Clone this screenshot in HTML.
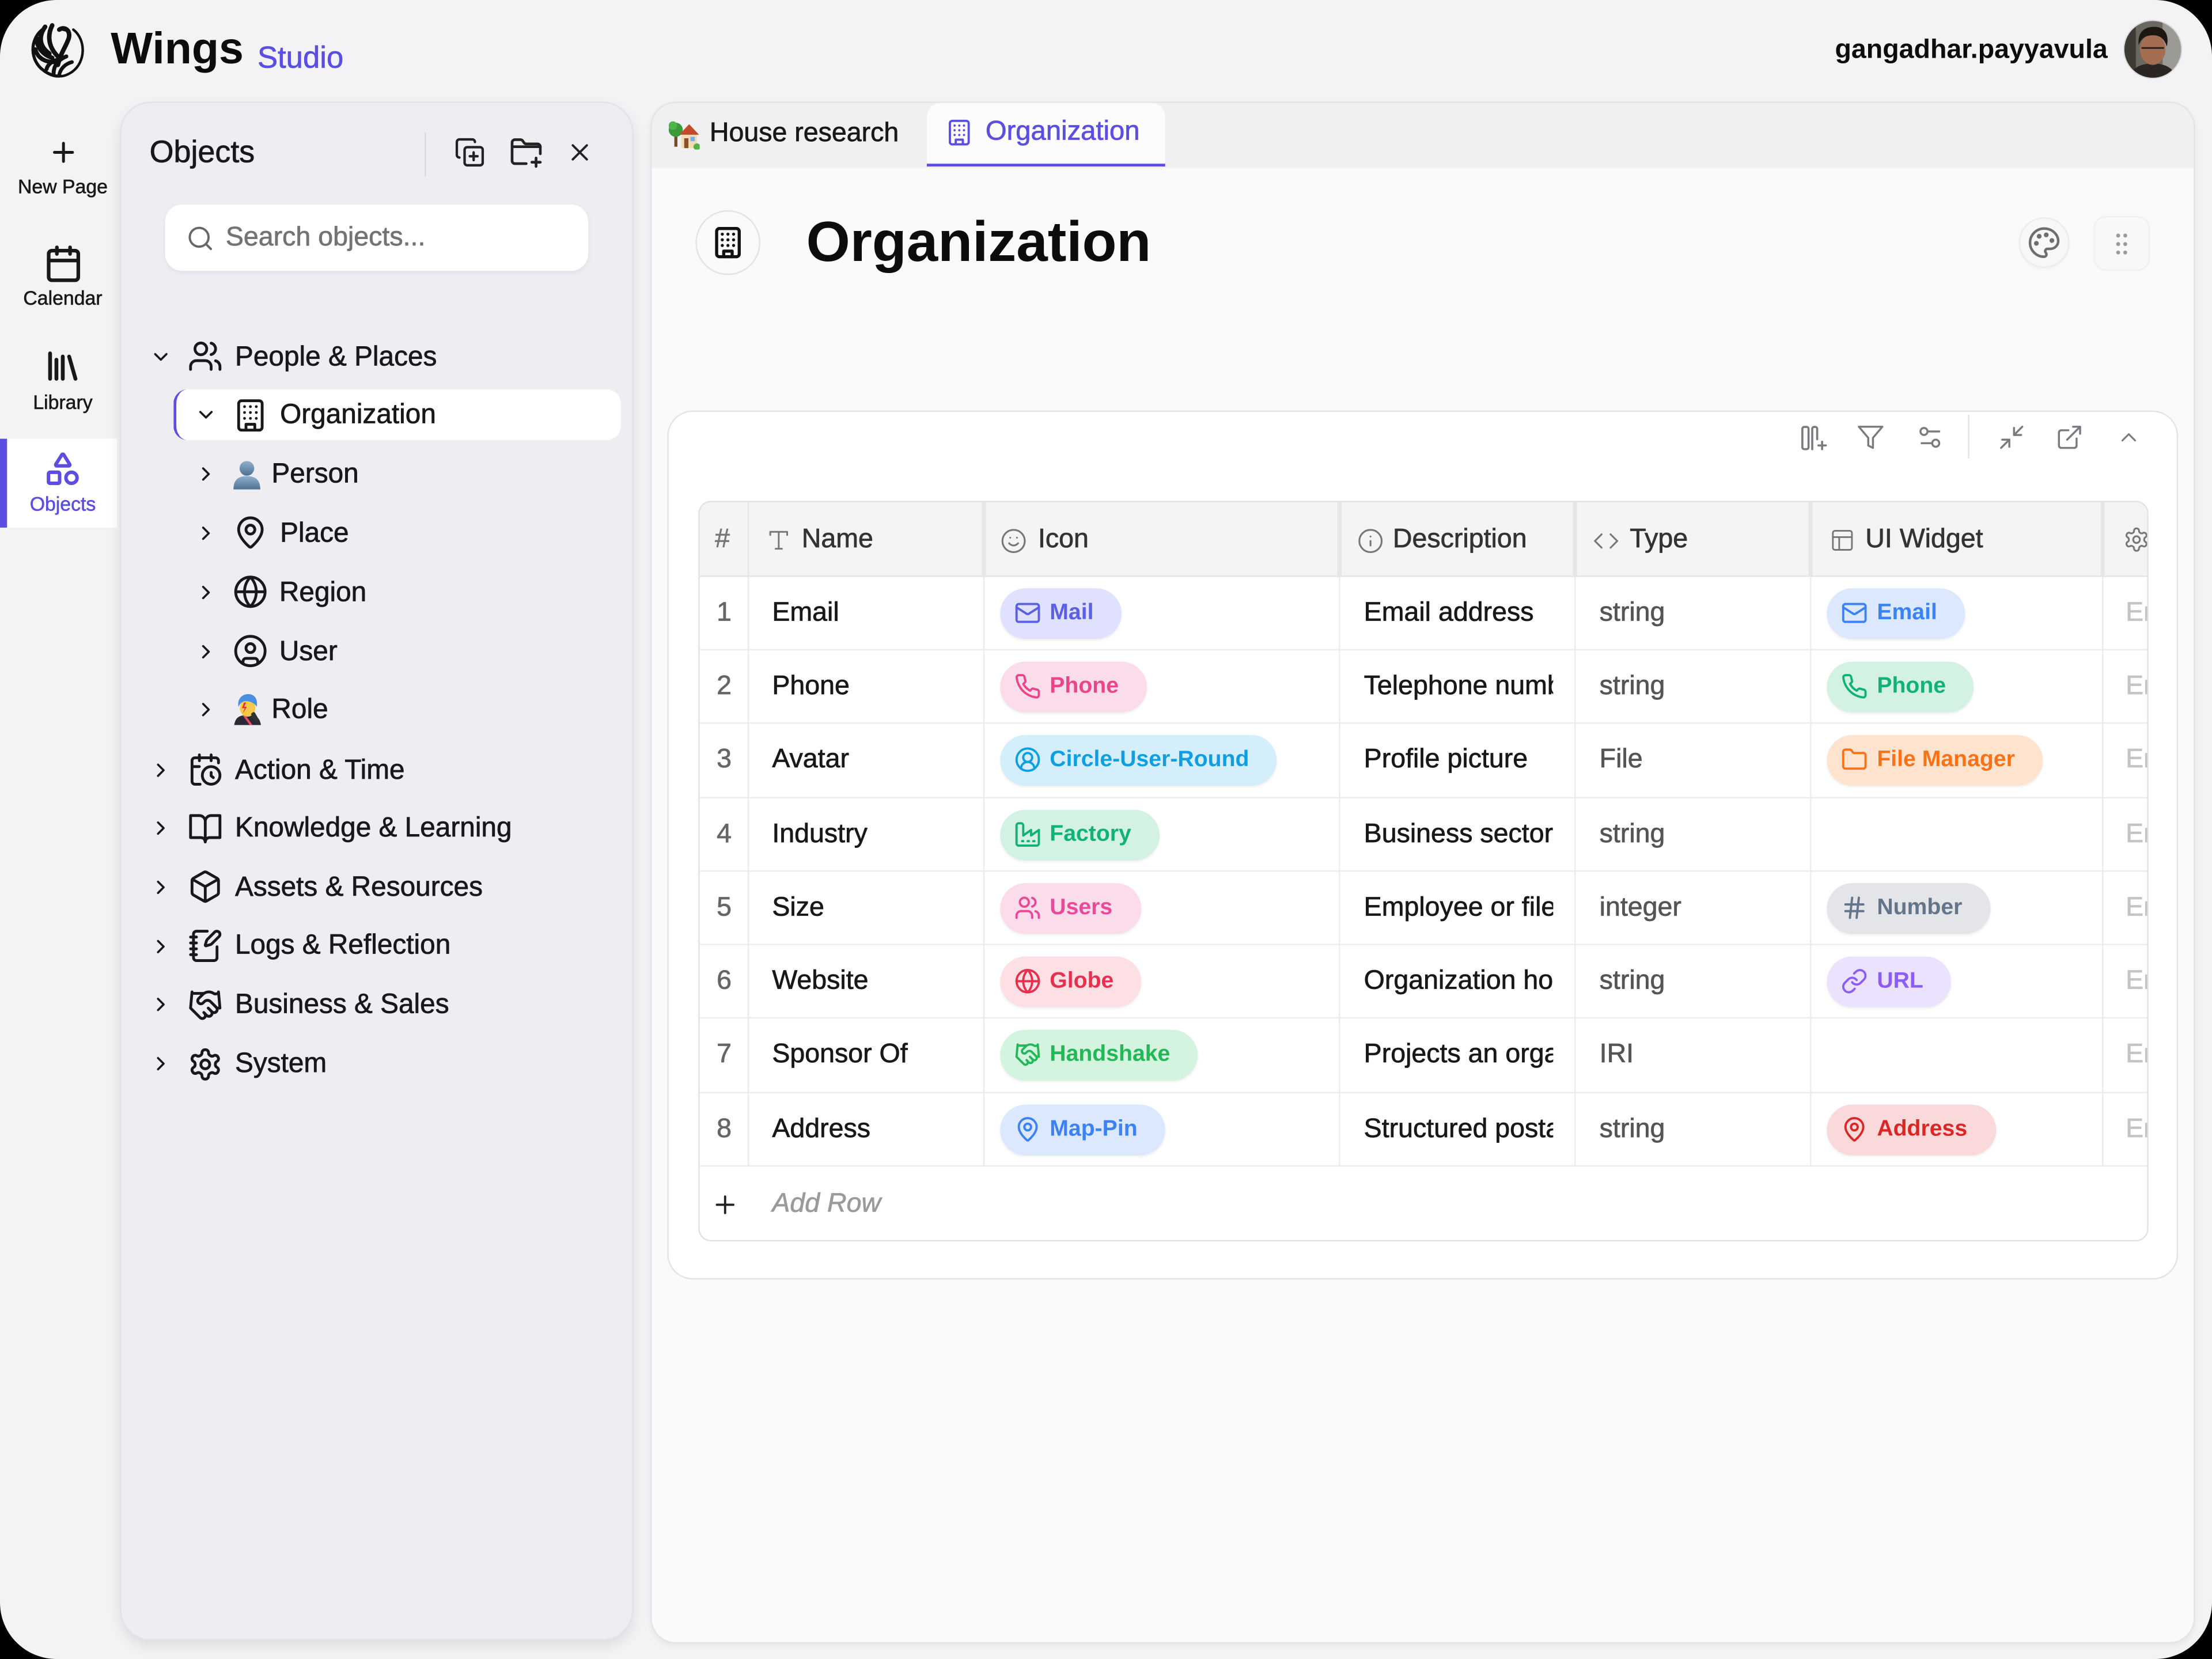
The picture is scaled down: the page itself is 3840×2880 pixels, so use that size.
<!DOCTYPE html>
<html><head><meta charset="utf-8">
<style>
html,body{margin:0;padding:0;background:#000;}
body{width:3840px;height:2880px;overflow:hidden;position:relative;}
#s{position:absolute;left:0;top:0;width:1568px;height:1176px;transform:scale(2.4489796);transform-origin:0 0;background:#f3f3f5;border-radius:40px;overflow:hidden;font-family:"Liberation Sans",Arial,sans-serif;color:#18181b;}
.a{position:absolute;}
.t{position:absolute;white-space:nowrap;line-height:24px;}
.w{-webkit-text-stroke:0.3px currentColor;}
svg.i{position:absolute;fill:none;stroke:currentColor;stroke-width:2;stroke-linecap:round;stroke-linejoin:round;overflow:visible;}
.nl{position:absolute;left:0;width:89px;text-align:center;font-size:13.8px;line-height:16px;-webkit-text-stroke:0.25px currentColor;}
.tr{font-size:19.5px;-webkit-text-stroke:0.3px currentColor;}
.pill{position:absolute;height:36px;border-radius:18px;padding:0 20px 0 35px;font-size:16px;font-weight:bold;line-height:36px;white-space:nowrap;box-shadow:0 1px 2px rgba(0,0,0,.07);}
.pill svg{position:absolute;left:9.5px;top:8px;width:19px;height:19px;fill:none;stroke:currentColor;stroke-width:2;stroke-linecap:round;stroke-linejoin:round;}
.cell{position:absolute;white-space:nowrap;line-height:24px;font-size:19px;-webkit-text-stroke:0.3px currentColor;}
.hl{position:absolute;left:0;width:1030px;height:1px;background:#ececef;}
.vl{position:absolute;top:53px;width:1px;height:418px;background:#ececef;}
.hv{position:absolute;top:0;width:3px;height:53px;background:#e6e6ea;}
</style></head><body>
<svg width="0" height="0" style="position:absolute">
<defs>
<symbol id="plus" viewBox="0 0 24 24"><path d="M5 12h14M12 5v14"/></symbol>
<symbol id="cal" viewBox="0 0 24 24"><rect x="3" y="4" width="18" height="18" rx="2"/><path d="M16 2v4M8 2v4M3 10h18"/></symbol>
<symbol id="lib" viewBox="0 0 24 24"><path d="m16 6 4 14M12 6v14M8 8v12M4 4v16"/></symbol>
<symbol id="shapes" viewBox="0 0 24 24"><path d="M8.3 10a.7.7 0 0 1-.626-1.079L11.4 3a.7.7 0 0 1 1.198-.043L16.3 8.9a.7.7 0 0 1-.572 1.1Z"/><rect x="3" y="14" width="7" height="7" rx="1"/><circle cx="17.5" cy="17.5" r="3.5"/></symbol>
<symbol id="copyplus" viewBox="0 0 24 24"><path d="M15 12v6M12 15h6"/><rect x="8" y="8" width="14" height="14" rx="2"/><path d="M4 16c-1.1 0-2-.9-2-2V4c0-1.1.9-2 2-2h10c1.1 0 2 .9 2 2"/></symbol>
<symbol id="folderplus" viewBox="0 0 24 24"><path d="M19 16v6M16 19h6"/><path d="M12 20H4a2 2 0 0 1-2-2V5a2 2 0 0 1 2-2h3.9a2 2 0 0 1 1.69.9l.81 1.2a2 2 0 0 0 1.67.9H20a2 2 0 0 1 2 2v5"/><path d="M2 8h20"/></symbol>
<symbol id="x" viewBox="0 0 24 24"><path d="M18 6 6 18M6 6l12 12"/></symbol>
<symbol id="search" viewBox="0 0 24 24"><circle cx="11" cy="11" r="8"/><path d="m21 21-4.3-4.3"/></symbol>
<symbol id="cdown" viewBox="0 0 24 24"><path d="m6 9 6 6 6-6"/></symbol>
<symbol id="cright" viewBox="0 0 24 24"><path d="m9 18 6-6-6-6"/></symbol>
<symbol id="cup" viewBox="0 0 24 24"><path d="m18 15-6-6-6 6"/></symbol>
<symbol id="users" viewBox="0 0 24 24"><path d="M16 21v-2a4 4 0 0 0-4-4H6a4 4 0 0 0-4 4v2"/><circle cx="9" cy="7" r="4"/><path d="M22 21v-2a4 4 0 0 0-3-3.87M16 3.130a4 4 0 0 1 0 7.75"/></symbol>
<symbol id="building" viewBox="0 0 24 24"><rect x="4" y="2" width="16" height="20" rx="2"/><path d="M9 22v-4h6v4M8 6h.01M16 6h.01M12 6h.01M12 10h.01M12 14h.01M16 10h.01M16 14h.01M8 10h.01M8 14h.01"/></symbol>
<symbol id="pin" viewBox="0 0 24 24"><path d="M20 10c0 4.993-5.539 10.193-7.399 11.799a1 1 0 0 1-1.202 0C9.539 20.193 4 14.993 4 10a8 8 0 0 1 16 0"/><circle cx="12" cy="10" r="3"/></symbol>
<symbol id="globe" viewBox="0 0 24 24"><circle cx="12" cy="12" r="10"/><path d="M12 2a14.5 14.5 0 0 0 0 20 14.5 14.5 0 0 0 0-20M2 12h20"/></symbol>
<symbol id="cuser" viewBox="0 0 24 24"><circle cx="12" cy="12" r="10"/><circle cx="12" cy="10" r="3"/><path d="M7 20.662V19a2 2 0 0 1 2-2h6a2 2 0 0 1 2 2v1.662"/></symbol>
<symbol id="curound" viewBox="0 0 24 24"><path d="M18 20a6 6 0 0 0-12 0"/><circle cx="12" cy="10" r="4"/><circle cx="12" cy="12" r="10"/></symbol>
<symbol id="calclock" viewBox="0 0 24 24"><path d="M21 7.5V6a2 2 0 0 0-2-2H5a2 2 0 0 0-2 2v14a2 2 0 0 0 2 2h3.5M16 2v4M8 2v4M3 10h5M17.5 17.5 16 16.3V14"/><circle cx="16" cy="16" r="6"/></symbol>
<symbol id="book" viewBox="0 0 24 24"><path d="M2 3h6a4 4 0 0 1 4 4v14a3 3 0 0 0-3-3H2zM22 3h-6a4 4 0 0 0-4 4v14a3 3 0 0 1 3-3h7z"/></symbol>
<symbol id="box" viewBox="0 0 24 24"><path d="M21 8a2 2 0 0 0-1-1.73l-7-4a2 2 0 0 0-2 0l-7 4A2 2 0 0 0 3 8v8a2 2 0 0 0 1 1.73l7 4a2 2 0 0 0 2 0l7-4A2 2 0 0 0 21 16Z"/><path d="m3.3 7 8.7 5 8.7-5M12 22V12"/></symbol>
<symbol id="notebook" viewBox="0 0 24 24"><path d="M13.4 2H6a2 2 0 0 0-2 2v16a2 2 0 0 0 2 2h12a2 2 0 0 0 2-2v-7.4M2 6h4M2 10h4M2 14h4M2 18h4"/><path d="M21.378 5.626a1 1 0 1 0-3.004-3.004l-5.01 5.012a2 2 0 0 0-.506.854l-.837 2.87a.5.5 0 0 0 .62.62l2.870-.837a2 2 0 0 0 .854-.506z"/></symbol>
<symbol id="hand" viewBox="0 0 24 24"><path d="m11 17 2 2a1 1 0 1 0 3-3"/><path d="m14 14 2.5 2.5a1 1 0 1 0 3-3l-3.880-3.880a3 3 0 0 0-4.240 0l-.880.880a1 1 0 1 1-3-3l2.810-2.810a5.790 5.790 0 0 1 7.060-.870l.470.280a2 2 0 0 0 1.420.250L21 4"/><path d="m21 3 1 11h-2M3 3 2 14l6.5 6.5a1 1 0 1 0 3-3M3 4h8"/></symbol>
<symbol id="gear" viewBox="0 0 24 24"><path d="M12.22 2h-.44a2 2 0 0 0-2 2v.18a2 2 0 0 1-1 1.73l-.43.25a2 2 0 0 1-2 0l-.15-.08a2 2 0 0 0-2.73.73l-.22.38a2 2 0 0 0 .73 2.73l.15.1a2 2 0 0 1 1 1.72v.51a2 2 0 0 1-1 1.74l-.15.09a2 2 0 0 0-.73 2.73l.22.38a2 2 0 0 0 2.73.73l.15-.08a2 2 0 0 1 2 0l.43.25a2 2 0 0 1 1 1.73V20a2 2 0 0 0 2 2h.44a2 2 0 0 0 2-2v-.18a2 2 0 0 1 1-1.73l.43-.25a2 2 0 0 1 2 0l.15.08a2 2 0 0 0 2.73-.73l.22-.39a2 2 0 0 0-.73-2.73l-.15-.08a2 2 0 0 1-1-1.74v-.5a2 2 0 0 1 1-1.74l.15-.09a2 2 0 0 0 .73-2.73l-.22-.38a2 2 0 0 0-2.73-.73l-.15.08a2 2 0 0 1-2 0l-.43-.25a2 2 0 0 1-1-1.73V4a2 2 0 0 0-2-2z"/><circle cx="12" cy="12" r="3"/></symbol>
<symbol id="mail" viewBox="0 0 24 24"><rect x="2" y="4" width="20" height="16" rx="2"/><path d="m22 7-8.97 5.7a1.94 1.94 0 0 1-2.06 0L2 7"/></symbol>
<symbol id="phone" viewBox="0 0 24 24"><path d="M22 16.92v3a2 2 0 0 1-2.18 2 19.79 19.79 0 0 1-8.63-3.07 19.5 19.5 0 0 1-6-6 19.79 19.79 0 0 1-3.07-8.67A2 2 0 0 1 4.11 2h3a2 2 0 0 1 2 1.72 12.84 12.84 0 0 0 .7 2.81 2 2 0 0 1-.45 2.11L8.09 9.91a16 16 0 0 0 6 6l1.27-1.27a2 2 0 0 1 2.11-.45 12.84 12.84 0 0 0 2.81.7A2 2 0 0 1 22 16.92z"/></symbol>
<symbol id="factory" viewBox="0 0 24 24"><path d="M2 20a2 2 0 0 0 2 2h16a2 2 0 0 0 2-2V8l-7 5V8l-7 5V4a2 2 0 0 0-2-2H4a2 2 0 0 0-2 2Z"/><path d="M17 18h1M12 18h1M7 18h1"/></symbol>
<symbol id="folder" viewBox="0 0 24 24"><path d="M20 20a2 2 0 0 0 2-2V8a2 2 0 0 0-2-2h-7.9a2 2 0 0 1-1.69-.9L9.6 3.9A2 2 0 0 0 7.93 3H4a2 2 0 0 0-2 2v13a2 2 0 0 0 2 2Z"/></symbol>
<symbol id="hash" viewBox="0 0 24 24"><path d="M4 9h16M4 15h16M10 3 8 21M16 3l-2 18"/></symbol>
<symbol id="link" viewBox="0 0 24 24"><path d="M10 13a5 5 0 0 0 7.54.54l3-3a5 5 0 0 0-7.07-7.07l-1.72 1.71"/><path d="M14 11a5 5 0 0 0-7.54-.54l-3 3a5 5 0 0 0 7.07 7.07l1.71-1.71"/></symbol>
<symbol id="type" viewBox="0 0 24 24"><path d="M4 7V4h16v3M9 20h6M12 4v16"/></symbol>
<symbol id="smile" viewBox="0 0 24 24"><circle cx="12" cy="12" r="10"/><path d="M8 14s1.5 2 4 2 4-2 4-2M9 9h.01M15 9h.01"/></symbol>
<symbol id="info" viewBox="0 0 24 24"><circle cx="12" cy="12" r="10"/><path d="M12 16v-4M12 8h.01"/></symbol>
<symbol id="code" viewBox="0 0 24 24"><path d="m16 18 6-6-6-6M8 6l-6 6 6 6"/></symbol>
<symbol id="layout" viewBox="0 0 24 24"><rect x="3" y="3" width="18" height="18" rx="2"/><path d="M3 9h18M9 21V9"/></symbol>
<symbol id="colplus" viewBox="0 0 24 24"><rect x="3" y="3" width="5" height="18" rx="1.5"/><path d="M11 21V4.5A1.5 1.5 0 0 1 12.5 3h1A1.5 1.5 0 0 1 15 4.5V13M19 15v6M16 18h6"/></symbol>
<symbol id="filter" viewBox="0 0 24 24"><path d="M22 3H2l8 9.46V19l4 2v-8.54z"/></symbol>
<symbol id="sliders" viewBox="0 0 24 24"><path d="M20 7h-9M14 17H5"/><circle cx="17" cy="17" r="3"/><circle cx="7" cy="7" r="3"/></symbol>
<symbol id="minim" viewBox="0 0 24 24"><path d="M4 14h6v6M20 10h-6V4M14 10l7-7M3 21l7-7"/></symbol>
<symbol id="ext" viewBox="0 0 24 24"><path d="M15 3h6v6M10 14 21 3M18 13v6a2 2 0 0 1-2 2H5a2 2 0 0 1-2-2V8a2 2 0 0 1 2-2h6"/></symbol>
<symbol id="palette" viewBox="0 0 24 24"><circle cx="13.5" cy="6.5" r=".8" fill="currentColor"/><circle cx="17.5" cy="10.5" r=".8" fill="currentColor"/><circle cx="8.5" cy="7.5" r=".8" fill="currentColor"/><circle cx="6.5" cy="12.5" r=".8" fill="currentColor"/><path d="M12 2C6.5 2 2 6.5 2 12s4.5 10 10 10c.926 0 1.648-.746 1.648-1.688 0-.437-.18-.835-.437-1.125-.29-.289-.438-.652-.438-1.125a1.64 1.64 0 0 1 1.668-1.668h1.996c3.051 0 5.555-2.503 5.555-5.554C21.965 6.012 17.461 2 12 2z"/></symbol>
<symbol id="grip" viewBox="0 0 24 24"><g fill="currentColor" stroke="none"><circle cx="9.5" cy="6" r="1.4"/><circle cx="9.5" cy="12" r="1.4"/><circle cx="9.5" cy="18" r="1.4"/><circle cx="14.5" cy="6" r="1.4"/><circle cx="14.5" cy="12" r="1.4"/><circle cx="14.5" cy="18" r="1.4"/></g></symbol>
</defs>
</svg>

<div id="s">
<!-- logo -->
<svg class="a" style="left:21px;top:16px" width="40" height="39" viewBox="0 0 40 39">
<g fill="none" stroke="#111" stroke-linecap="round">
<path d="M9 5 C0 12 0 27 10 34 C14 37 18 38 21 38" stroke-width="2.2"/>
<path d="M31 5 C40 12 40 28 30 35 C27 37 24 38 22 38" stroke-width="1.8"/>
<path d="M11 3 C6 10 7 17 14 22" stroke-width="3.2"/>
<path d="M5 11 C5 18 10 23 16 25" stroke-width="3.2"/>
<path d="M4 19 C6 26 12 28 17 28" stroke-width="3"/>
<path d="M16 2 C12 10 14 18 20 24" stroke-width="3.2"/>
<path d="M21 5 C26 2 30 7 27 13 C25 18 22 22 20 30" stroke-width="3.2"/>
<path d="M17 36 C17 30 21 26 26 24" stroke-width="2.8"/>
<path d="M21 37 C22 32 26 29 30 28" stroke-width="2.6"/>
<path d="M12 33 C13 29 17 27 21 26" stroke-width="2.8"/>
<path d="M24 5 L28 6" stroke-width="2"/>
</g>
</svg>
<div class="t" style="left:78.5px;top:14.3px;font-size:31.5px;line-height:40px;font-weight:bold;color:#0c0c0e;">Wings</div>
<div class="t w" style="left:182.5px;top:25.5px;font-size:21.5px;line-height:30px;color:#5b4ee0;">Studio</div>
<div class="t" style="right:74px;top:23px;font-size:19px;line-height:26px;font-weight:bold;color:#0c0c0e;">gangadhar.payyavula</div>
<!-- avatar -->
<svg class="a" style="left:1505px;top:14px" width="42" height="42" viewBox="0 0 42 42">
<defs><clipPath id="av"><circle cx="21" cy="21" r="20.5"/></clipPath></defs>
<g clip-path="url(#av)">
<rect width="42" height="42" fill="#6b6860"/>
<rect x="28" y="0" width="14" height="42" fill="#9c9a94"/>
<rect x="0" y="0" width="9" height="42" fill="#3e3a36"/>
<path d="M4 42 C6 33 14 31 21 31 C28 31 36 33 38 42Z" fill="#2b2624"/>
<ellipse cx="21" cy="21" rx="9" ry="11" fill="#a56e52"/>
<path d="M11 18 C10 8 16 5 22 5 C29 5 33 10 31 19 C29 13 26 11 21 11 C16 11 13 13 11 18Z" fill="#1d1714"/>
<path d="M13 20h6M23 20h6M19 20h4" stroke="#222" stroke-width="1.2"/>
</g>
<circle cx="21" cy="21" r="20.5" fill="none" stroke="#d8d8d8" stroke-width="0.8"/>
</svg>

<!-- left nav -->
<svg class="i" style="left:33.5px;top:97px;color:#18181b;stroke-width:2.2" width="22" height="22"><use href="#plus"/></svg>
<div class="nl" style="top:125px;">New Page</div>
<svg class="i" style="left:30.5px;top:173px;color:#18181b;stroke-width:2.2" width="28" height="28"><use href="#cal"/></svg>
<div class="nl" style="top:204px;">Calendar</div>
<svg class="i" style="left:30.5px;top:246px;color:#18181b;stroke-width:2.4" width="27" height="27"><use href="#lib"/></svg>
<div class="nl" style="top:277.5px;">Library</div>
<div class="a" style="left:0;top:311px;width:83px;height:63px;background:#fff;"></div>
<div class="a" style="left:0;top:311px;width:5px;height:63px;background:#5b4ee0;"></div>
<svg class="i" style="left:31px;top:319px;color:#5b4ee0;stroke-width:2.2" width="27" height="27"><use href="#shapes"/></svg>
<div class="nl" style="top:350px;color:#5b4ee0;">Objects</div>

<!-- objects panel -->
<div class="a" style="left:84.5px;top:71.5px;width:364px;height:1091px;border-radius:22px;background:#eeedf2;border:1px solid #e2e2e7;box-sizing:border-box;box-shadow:0 4px 9px rgba(0,0,0,.09);"></div>
<div class="t w" style="left:106px;top:94px;font-size:22px;line-height:28px;color:#18181b;">Objects</div>
<div class="a" style="left:301px;top:94px;width:1px;height:31px;background:#d9d9de;"></div>
<svg class="i" style="left:321.5px;top:97px;color:#222;stroke-width:1.9" width="22" height="22"><use href="#copyplus"/></svg>
<svg class="i" style="left:361px;top:96px;color:#222;stroke-width:1.9" width="24" height="24"><use href="#folderplus"/></svg>
<svg class="i" style="left:401px;top:98px;color:#222;stroke-width:1.9" width="20" height="20"><use href="#x"/></svg>
<div class="a" style="left:116.6px;top:145px;width:300px;height:47px;border-radius:12px;background:#fff;box-shadow:0 1px 3px rgba(0,0,0,.06);"></div>
<svg class="i" style="left:132px;top:158.5px;color:#666;stroke-width:1.9" width="20" height="20"><use href="#search"/></svg>
<div class="t w" style="left:160px;top:156.5px;font-size:19px;color:#737373;">Search objects...</div>

<!-- tree -->
<svg class="i" style="left:106px;top:244.5px;color:#18181b;stroke-width:2.2" width="16" height="16"><use href="#cdown"/></svg>
<svg class="i" style="left:133px;top:240px;color:#18181b;stroke-width:1.9" width="25" height="25"><use href="#users"/></svg>
<div class="t tr" style="left:166.6px;top:240.5px;">People &amp; Places</div>

<div class="a" style="left:122.5px;top:276px;width:317px;height:36px;border-radius:10px;background:#fff;border-left:2.5px solid #5b4ee0;box-sizing:border-box;"></div>
<svg class="i" style="left:137.6px;top:286px;color:#18181b;stroke-width:2.2" width="16" height="16"><use href="#cdown"/></svg>
<svg class="i" style="left:164.5px;top:281.5px;color:#18181b;stroke-width:1.9" width="25" height="25"><use href="#building"/></svg>
<div class="t tr" style="left:198.5px;top:282px;">Organization</div>

<svg class="i" style="left:137.6px;top:328px;color:#18181b;stroke-width:2.2" width="16" height="16"><use href="#cright"/></svg>
<svg class="a" style="left:164px;top:325px" width="22" height="22" viewBox="0 0 22 22">
<defs><linearGradient id="pg" x1="0" y1="0" x2="0" y2="1"><stop offset="0" stop-color="#8fb0cf"/><stop offset="1" stop-color="#4f7292"/></linearGradient></defs>
<circle cx="11" cy="7" r="5.2" fill="url(#pg)"/><path d="M1.5 22 C1.5 15 5 12.5 11 12.5 C17 12.5 20.5 15 20.5 22Z" fill="url(#pg)"/></svg>
<div class="t tr" style="left:192.5px;top:324px;">Person</div>

<svg class="i" style="left:137.6px;top:369.5px;color:#18181b;stroke-width:2.2" width="16" height="16"><use href="#cright"/></svg>
<svg class="i" style="left:164.5px;top:365px;color:#18181b;stroke-width:1.9" width="25" height="25"><use href="#pin"/></svg>
<div class="t tr" style="left:198.5px;top:365.5px;">Place</div>

<svg class="i" style="left:137.6px;top:411.5px;color:#18181b;stroke-width:2.2" width="16" height="16"><use href="#cright"/></svg>
<svg class="i" style="left:164.5px;top:407px;color:#18181b;stroke-width:1.9" width="25" height="25"><use href="#globe"/></svg>
<div class="t tr" style="left:198px;top:407.5px;">Region</div>

<svg class="i" style="left:137.6px;top:453.5px;color:#18181b;stroke-width:2.2" width="16" height="16"><use href="#cright"/></svg>
<svg class="i" style="left:164.5px;top:449px;color:#18181b;stroke-width:1.9" width="25" height="25"><use href="#cuser"/></svg>
<div class="t tr" style="left:198px;top:449.5px;">User</div>

<svg class="i" style="left:137.6px;top:495px;color:#18181b;stroke-width:2.2" width="16" height="16"><use href="#cright"/></svg>
<svg class="a" style="left:165px;top:492px" width="21" height="22" viewBox="0 0 21 22">
<path d="M1 22 C2 16 5 15 10.5 15 C16 15 19 16 20 22Z" fill="#2a2a36"/>
<path d="M7 15 L12 22 L14 22 L9 15Z" fill="#e84a5f"/>
<ellipse cx="10.5" cy="10" rx="5.5" ry="6" fill="#f7c948"/>
<path d="M4 9 C3 2 8 0 11 0 C15 0 18 3 17 9 C15 6 12 5 9 5 C7 5 5 7 4 9Z" fill="#4a90e2"/>
<path d="M8 6 L6.5 10 L8.5 10 L7 14 L10 9 L8 9 L9.5 6Z" fill="#e0303a"/>
<rect x="14" y="13" width="3" height="7" rx="1" fill="#333" transform="rotate(-30 15 16)"/>
</svg>
<div class="t tr" style="left:192.5px;top:491px;">Role</div>

<svg class="i" style="left:106px;top:537.5px;color:#18181b;stroke-width:2.2" width="16" height="16"><use href="#cright"/></svg>
<svg class="i" style="left:133px;top:533px;color:#18181b;stroke-width:1.9" width="25" height="25"><use href="#calclock"/></svg>
<div class="t tr" style="left:166.6px;top:533.5px;">Action &amp; Time</div>

<svg class="i" style="left:106px;top:579px;color:#18181b;stroke-width:2.2" width="16" height="16"><use href="#cright"/></svg>
<svg class="i" style="left:133px;top:574.5px;color:#18181b;stroke-width:1.9" width="25" height="25"><use href="#book"/></svg>
<div class="t tr" style="left:166.6px;top:575px;">Knowledge &amp; Learning</div>

<svg class="i" style="left:106px;top:620.5px;color:#18181b;stroke-width:2.2" width="16" height="16"><use href="#cright"/></svg>
<svg class="i" style="left:133px;top:616px;color:#18181b;stroke-width:1.9" width="25" height="25"><use href="#box"/></svg>
<div class="t tr" style="left:166.6px;top:616.5px;">Assets &amp; Resources</div>

<svg class="i" style="left:106px;top:662.5px;color:#18181b;stroke-width:2.2" width="16" height="16"><use href="#cright"/></svg>
<svg class="i" style="left:133px;top:658px;color:#18181b;stroke-width:1.9" width="25" height="25"><use href="#notebook"/></svg>
<div class="t tr" style="left:166.6px;top:658.3px;">Logs &amp; Reflection</div>

<svg class="i" style="left:106px;top:704px;color:#18181b;stroke-width:2.2" width="16" height="16"><use href="#cright"/></svg>
<svg class="i" style="left:133px;top:699.5px;color:#18181b;stroke-width:1.9" width="25" height="25"><use href="#hand"/></svg>
<div class="t tr" style="left:166.6px;top:700px;">Business &amp; Sales</div>

<svg class="i" style="left:106px;top:746px;color:#18181b;stroke-width:2.2" width="16" height="16"><use href="#cright"/></svg>
<svg class="i" style="left:133px;top:741.5px;color:#18181b;stroke-width:1.9" width="25" height="25"><use href="#gear"/></svg>
<div class="t tr" style="left:166.6px;top:742.2px;">System</div>

<!-- main panel -->
<div class="a" style="left:461px;top:71.5px;width:1095px;height:1093px;border-radius:18px;background:linear-gradient(#f0f0f2 0,#f0f0f2 46px,#fafafa 46px);border:1px solid #e4e4e8;box-sizing:border-box;box-shadow:0 2px 4px rgba(0,0,0,.05);"></div>
<svg class="a" style="left:474px;top:84px" width="22" height="22" viewBox="0 0 22 22">
<rect x="4" y="12" width="2.2" height="8" fill="#7a4a24"/>
<circle cx="5" cy="8" r="5" fill="#3c9a3a"/><circle cx="3" cy="5" r="3" fill="#4fb548"/>
<rect x="9" y="10" width="11" height="11" fill="#f2dcb4"/>
<path d="M7.5 11.5 L14.5 4 L21.5 11.5Z" fill="#c44a2c"/>
<rect x="11" y="14" width="3" height="7" fill="#8c4f2a"/>
<rect x="15.5" y="13" width="3" height="3" fill="#6cb4e6"/>
<circle cx="20" cy="20" r="2.4" fill="#55b14a"/>
</svg>
<div class="t w" style="left:503px;top:83px;font-size:19px;color:#18181b;">House research</div>
<div class="a" style="left:657px;top:72.5px;width:168.5px;height:45px;border-radius:10px 10px 0 0;background:#fcfcfc;border-bottom:2.5px solid #5b4ee0;box-sizing:border-box;"></div>
<svg class="i" style="left:670px;top:84px;color:#5b4ee0;stroke-width:1.9" width="20" height="20"><use href="#building"/></svg>
<div class="t w" style="left:698.6px;top:82px;font-size:19.3px;color:#5b4ee0;">Organization</div>

<div class="a" style="left:493px;top:149px;width:46px;height:46px;border-radius:50%;border:1.5px solid #e3e3e3;box-sizing:border-box;background:#fafafa;"></div>
<svg class="i" style="left:504px;top:160px;color:#111;stroke-width:2.2" width="24" height="24"><use href="#building"/></svg>
<div class="t" style="left:571.5px;top:148px;font-size:40px;line-height:48px;font-weight:bold;color:#0c0c0e;">Organization</div>

<div class="a" style="left:1431px;top:154px;width:36px;height:36px;border-radius:50%;border:1px solid #ececec;box-sizing:border-box;background:#f7f7f7;box-shadow:0 1px 2px rgba(0,0,0,.04);"></div>
<svg class="i" style="left:1437px;top:160px;color:#6e6e6e;stroke-width:1.8" width="24" height="24"><use href="#palette"/></svg>
<div class="a" style="left:1484px;top:152.5px;width:39.5px;height:39.5px;border-radius:9px;border:1px solid #f0f0f0;box-sizing:border-box;background:#f8f8f8;"></div>
<svg class="i" style="left:1492px;top:160.5px;color:#9a9a9a" width="24" height="24"><use href="#grip"/></svg>

<!-- card -->
<div class="a" style="left:472.5px;top:290.5px;width:1071.5px;height:616.5px;border-radius:18px;background:#fff;border:1px solid #e4e4e7;box-sizing:border-box;"></div>
<svg class="i" style="left:1275px;top:299.5px;color:#7a7a80;stroke-width:1.7" width="21" height="21"><use href="#colplus"/></svg>
<svg class="i" style="left:1316px;top:299.5px;color:#7a7a80;stroke-width:1.7" width="20" height="20"><use href="#filter"/></svg>
<svg class="i" style="left:1358px;top:300px;color:#7a7a80;stroke-width:1.7" width="20" height="20"><use href="#sliders"/></svg>
<div class="a" style="left:1394.5px;top:294px;width:1px;height:31px;background:#e4e4e7;"></div>
<svg class="i" style="left:1415.5px;top:300px;color:#7a7a80;stroke-width:1.7" width="20" height="20"><use href="#minim"/></svg>
<svg class="i" style="left:1457px;top:300px;color:#7a7a80;stroke-width:1.7" width="20" height="20"><use href="#ext"/></svg>
<svg class="i" style="left:1500px;top:301px;color:#7a7a80;stroke-width:1.7" width="18" height="18"><use href="#cup"/></svg>

<!-- table -->
<div class="a" style="left:494.8px;top:354.5px;width:1028px;height:525px;border:1px solid #e2e2e6;border-radius:9px;box-sizing:border-box;overflow:hidden;background:#fff;">
 <div class="a" style="left:0;top:0;width:1030px;height:53px;background:#f4f4f5;border-bottom:1px solid #e4e4e7;box-sizing:border-box;"></div>
 <div class="hv" style="left:34px;width:1.5px;"></div>
 <div class="hv" style="left:200px;"></div>
 <div class="hv" style="left:452px;"></div>
 <div class="hv" style="left:619px;"></div>
 <div class="hv" style="left:786px;"></div>
 <div class="hv" style="left:993px;"></div>
 <div class="vl" style="left:34.5px;"></div>
 <div class="vl" style="left:201.5px;"></div>
 <div class="vl" style="left:453.5px;"></div>
 <div class="vl" style="left:620.5px;"></div>
 <div class="vl" style="left:787.5px;"></div>
 <div class="vl" style="left:994.5px;"></div>
 <div class="hl" style="top:104.6px;"></div>
 <div class="hl" style="top:156.8px;"></div>
 <div class="hl" style="top:209px;"></div>
 <div class="hl" style="top:261.3px;"></div>
 <div class="hl" style="top:313.5px;"></div>
 <div class="hl" style="top:365.8px;"></div>
 <div class="hl" style="top:418px;"></div>
 <div class="hl" style="top:470.3px;"></div>

 <!-- header -->
 <div class="cell" style="left:11px;top:15.5px;color:#777;">#</div>
 <svg class="i" style="left:47.5px;top:18px;color:#777;stroke-width:1.6" width="18" height="18"><use href="#type"/></svg>
 <div class="cell" style="left:72.5px;top:15.5px;color:#333;">Name</div>
 <svg class="i" style="left:213.5px;top:18px;color:#777;stroke-width:1.6" width="19" height="19"><use href="#smile"/></svg>
 <div class="cell" style="left:240px;top:15.5px;color:#333;">Icon</div>
 <svg class="i" style="left:466px;top:18px;color:#777;stroke-width:1.6" width="19" height="19"><use href="#info"/></svg>
 <div class="cell" style="left:491.5px;top:15.5px;color:#333;">Description</div>
 <svg class="i" style="left:633px;top:18px;color:#777;stroke-width:1.6" width="19" height="19"><use href="#code"/></svg>
 <div class="cell" style="left:659.5px;top:15.5px;color:#333;">Type</div>
 <svg class="i" style="left:801.5px;top:18.5px;color:#777;stroke-width:1.6" width="18" height="18"><use href="#layout"/></svg>
 <div class="cell" style="left:826.5px;top:15.5px;color:#333;">UI Widget</div>
 <svg class="i" style="left:1009px;top:17.5px;color:#777;stroke-width:1.6" width="19" height="19"><use href="#gear"/></svg>

 <div class="cell" style="left:0;width:35px;text-align:center;top:67.3px;color:#666;">1</div>
 <div class="cell" style="left:51.5px;top:67.3px;">Email</div>
 <div class="pill" style="left:213.3px;top:61.3px;background:#e0e1fc;color:#5b5fe3;"><svg viewBox="0 0 24 24"><use href="#mail"/></svg>Mail</div>
 <div class="cell" style="left:471px;top:67.3px;width:134px;overflow:hidden;">Email address</div>
 <div class="cell" style="left:638px;top:67.3px;color:#555;">string</div>
 <div class="pill" style="left:799.7px;top:61.3px;background:#dce8fd;color:#3b82f6;"><svg viewBox="0 0 24 24"><use href="#mail"/></svg>Email</div>
 <div class="cell" style="left:1011px;top:67.3px;color:#c4c4c4;">Email</div>

 <div class="cell" style="left:0;width:35px;text-align:center;top:119.5px;color:#666;">2</div>
 <div class="cell" style="left:51.5px;top:119.5px;">Phone</div>
 <div class="pill" style="left:213.3px;top:113.5px;background:#fbdcea;color:#e8458b;"><svg viewBox="0 0 24 24"><use href="#phone"/></svg>Phone</div>
 <div class="cell" style="left:471px;top:119.5px;width:134px;overflow:hidden;">Telephone number</div>
 <div class="cell" style="left:638px;top:119.5px;color:#555;">string</div>
 <div class="pill" style="left:799.7px;top:113.5px;background:#d3f2e4;color:#10b27a;"><svg viewBox="0 0 24 24"><use href="#phone"/></svg>Phone</div>
 <div class="cell" style="left:1011px;top:119.5px;color:#c4c4c4;">Email</div>

 <div class="cell" style="left:0;width:35px;text-align:center;top:171.8px;color:#666;">3</div>
 <div class="cell" style="left:51.5px;top:171.8px;">Avatar</div>
 <div class="pill" style="left:213.3px;top:165.8px;background:#d4eefc;color:#0e9fe0;"><svg viewBox="0 0 24 24"><use href="#curound"/></svg>Circle-User-Round</div>
 <div class="cell" style="left:471px;top:171.8px;width:134px;overflow:hidden;">Profile picture</div>
 <div class="cell" style="left:638px;top:171.8px;color:#555;">File</div>
 <div class="pill" style="left:799.7px;top:165.8px;background:#fee3cf;color:#f97316;"><svg viewBox="0 0 24 24"><use href="#folder"/></svg>File Manager</div>
 <div class="cell" style="left:1011px;top:171.8px;color:#c4c4c4;">Email</div>

 <div class="cell" style="left:0;width:35px;text-align:center;top:224px;color:#666;">4</div>
 <div class="cell" style="left:51.5px;top:224px;">Industry</div>
 <div class="pill" style="left:213.3px;top:218px;background:#d3f2e4;color:#10b27a;"><svg viewBox="0 0 24 24"><use href="#factory"/></svg>Factory</div>
 <div class="cell" style="left:471px;top:224px;width:134px;overflow:hidden;">Business sector</div>
 <div class="cell" style="left:638px;top:224px;color:#555;">string</div>
 <div class="cell" style="left:1011px;top:224px;color:#c4c4c4;">Email</div>

 <div class="cell" style="left:0;width:35px;text-align:center;top:276.3px;color:#666;">5</div>
 <div class="cell" style="left:51.5px;top:276.3px;">Size</div>
 <div class="pill" style="left:213.3px;top:270.3px;background:#fbdcea;color:#ec4899;"><svg viewBox="0 0 24 24"><use href="#users"/></svg>Users</div>
 <div class="cell" style="left:471px;top:276.3px;width:134px;overflow:hidden;">Employee or file count</div>
 <div class="cell" style="left:638px;top:276.3px;color:#555;">integer</div>
 <div class="pill" style="left:799.7px;top:270.3px;background:#e4e5e9;color:#64748b;"><svg viewBox="0 0 24 24"><use href="#hash"/></svg>Number</div>
 <div class="cell" style="left:1011px;top:276.3px;color:#c4c4c4;">Email</div>

 <div class="cell" style="left:0;width:35px;text-align:center;top:328.5px;color:#666;">6</div>
 <div class="cell" style="left:51.5px;top:328.5px;">Website</div>
 <div class="pill" style="left:213.3px;top:322.5px;background:#fde0e4;color:#e5304f;"><svg viewBox="0 0 24 24"><use href="#globe"/></svg>Globe</div>
 <div class="cell" style="left:471px;top:328.5px;width:134px;overflow:hidden;">Organization homepage</div>
 <div class="cell" style="left:638px;top:328.5px;color:#555;">string</div>
 <div class="pill" style="left:799.7px;top:322.5px;background:#ebe3fd;color:#8b5cf6;"><svg viewBox="0 0 24 24"><use href="#link"/></svg>URL</div>
 <div class="cell" style="left:1011px;top:328.5px;color:#c4c4c4;">Email</div>

 <div class="cell" style="left:0;width:35px;text-align:center;top:380.8px;color:#666;">7</div>
 <div class="cell" style="left:51.5px;top:380.8px;">Sponsor Of</div>
 <div class="pill" style="left:213.3px;top:374.8px;background:#d4f4df;color:#22b857;"><svg viewBox="0 0 24 24"><use href="#hand"/></svg>Handshake</div>
 <div class="cell" style="left:471px;top:380.8px;width:134px;overflow:hidden;">Projects an organization</div>
 <div class="cell" style="left:638px;top:380.8px;color:#555;">IRI</div>
 <div class="cell" style="left:1011px;top:380.8px;color:#c4c4c4;">Email</div>

 <div class="cell" style="left:0;width:35px;text-align:center;top:433px;color:#666;">8</div>
 <div class="cell" style="left:51.5px;top:433px;">Address</div>
 <div class="pill" style="left:213.3px;top:427px;background:#dce8fd;color:#3b82f6;"><svg viewBox="0 0 24 24"><use href="#pin"/></svg>Map-Pin</div>
 <div class="cell" style="left:471px;top:433px;width:134px;overflow:hidden;">Structured postal address</div>
 <div class="cell" style="left:638px;top:433px;color:#555;">string</div>
 <div class="pill" style="left:799.7px;top:427px;background:#fad9da;color:#dc2626;"><svg viewBox="0 0 24 24"><use href="#pin"/></svg>Address</div>
 <div class="cell" style="left:1011px;top:433px;color:#c4c4c4;">Email</div>

 <svg class="i" style="left:8px;top:488px;color:#222;stroke-width:1.9" width="20" height="20"><use href="#plus"/></svg>
 <div class="cell" style="left:51.5px;top:486px;color:#9a9a9a;font-style:italic;">Add Row</div>
</div>

</div>
</body></html>
